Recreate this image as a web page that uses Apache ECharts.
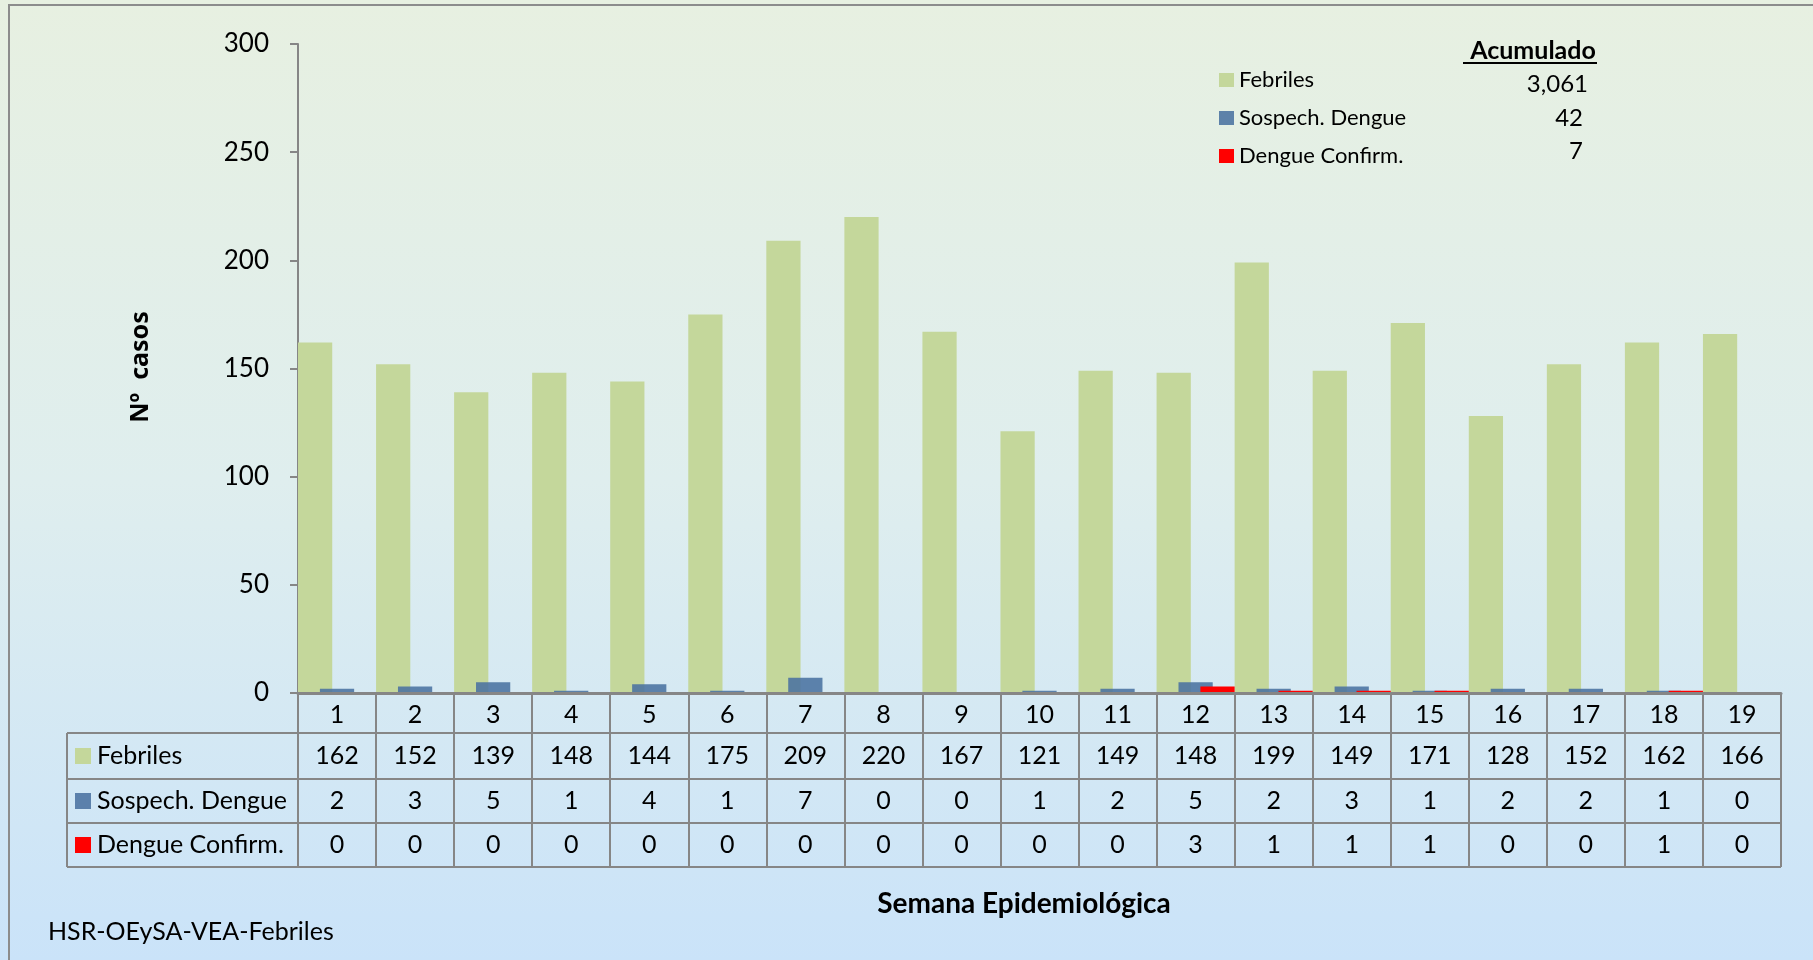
<!DOCTYPE html>
<html>
<head>
<meta charset="utf-8">
<script src="https://cdn.jsdelivr.net/npm/echarts@6/dist/echarts.min.js"></script>
<style>
html,body{margin:0;padding:0;background:#fff;}
#chart{width:1813px;height:960px;}
</style>
</head>
<body>
<div id="chart"></div>
<script>
// ---- data ----
const weeks = ['1','2','3','4','5','6','7','8','9','10','11','12','13','14','15','16','17','18','19'];
const febriles = [162,152,139,148,144,175,209,220,167,121,149,148,199,149,171,128,152,162,166];
const sospech  = [2,3,5,1,4,1,7,0,0,1,2,5,2,3,1,2,2,1,0];
const confirm  = [0,0,0,0,0,0,0,0,0,0,0,3,1,1,1,0,0,1,0];
const seriesNames = ['Febriles','Sospech. Dengue','Dengue Confirm.'];
const yTicks = {min:0, max:300, interval:50};

const colors = ['#c4d79b','rgba(74,114,160,0.88)','#ff0000'];
const FONT = 'Lato, "Noto Sans", sans-serif';

const chart = echarts.init(document.getElementById('chart'), null, {renderer:'canvas'});

const gridL = 298, gridR = 1781, gridT = 44, gridB = 693;

const option = {
  animation:false,
  textStyle:{fontFamily:FONT},
  grid:{left:gridL, right:1813-gridR, top:gridT, bottom:960-gridB, containLabel:false},
  legend:{
    orient:'vertical', left:1214, top:64,
    itemWidth:15, itemHeight:14, itemGap:16,
    icon:'rect',
    textStyle:{fontFamily:FONT, fontSize:22, color:'#000', padding:[0,0,0,0]},
    data:seriesNames
  },
  xAxis:{
    type:'category', data:weeks, z:5,
    axisLine:{show:true, lineStyle:{color:'#868686', width:3}},
    axisTick:{show:true, interval:0, length:174, lineStyle:{color:'#868686', width:2}},
    axisLabel:{show:true, interval:0, margin:9, fontSize:25, color:'#000', fontFamily:FONT, lineHeight:25},
    splitLine:{show:false}
  },
  yAxis:{
    type:'value', min:yTicks.min, max:yTicks.max, interval:yTicks.interval,
    axisLine:{show:true, lineStyle:{color:'#868686', width:2}},
    axisTick:{show:true, length:8, lineStyle:{color:'#868686', width:2}},
    axisLabel:{fontSize:26, color:'#000', margin:29, fontFamily:FONT},
    splitLine:{show:false}
  },
  series:[
    {name:seriesNames[0], type:'bar', data:febriles, itemStyle:{color:colors[0]}, barCategoryGap:'0%', barGap:'-36%'},
    {name:seriesNames[1], type:'bar', data:sospech, itemStyle:{color:colors[1]}, barCategoryGap:'0%', barGap:'-36%'},
    {name:seriesNames[2], type:'bar', data:confirm, itemStyle:{color:colors[2]}, barCategoryGap:'0%', barGap:'-36%'}
  ]
};
chart.setOption(option);

// ---- graphics: background, table, titles ----
const sum = a => a.reduce((s,v)=>s+v,0);
const totals = [sum(febriles), sum(sospech), sum(confirm)];
const rows = [febriles, sospech, confirm];
const rowCenters = [756, 801, 845];
const hLines = [733, 779, 823, 867];
const tableLeft = 67;

const g = [];
g.push({type:'rect', z:-100, silent:true, shape:{x:0,y:0,width:1813,height:960},
  style:{fill:new echarts.graphic.LinearGradient(0,0,0,1,[{offset:0,color:'#e7f0e1'},{offset:0.5,color:'#dfeeee'},{offset:1,color:'#cae3f9'}])}});
g.push({type:'rect', z:-50, silent:true, shape:{x:9,y:5,width:1830,height:980},
  style:{fill:null, stroke:'#8c8c8c', lineWidth:2}});

// table horizontal lines
hLines.forEach(y=>{
  g.push({type:'line', z:5, shape:{x1:tableLeft,y1:y,x2:gridR,y2:y}, style:{stroke:'#868686', lineWidth:2}});
});
g.push({type:'line', z:5, shape:{x1:tableLeft,y1:hLines[0],x2:tableLeft,y2:hLines[3]}, style:{stroke:'#868686', lineWidth:2}});

// legend column in table
seriesNames.forEach((n,i)=>{
  const cy = rowCenters[i];
  g.push({type:'rect', z:6, shape:{x:75,y:cy-8,width:16,height:16}, style:{fill:colors[i]}});
  g.push({type:'text', z:6, x:97, y:cy, style:{text:n, font:'25px '+FONT, fill:'#000', textAlign:'left', textVerticalAlign:'middle'}});
});

// table values
weeks.forEach((w,idx)=>{
  const px = chart.convertToPixel({xAxisIndex:0}, idx);
  rows.forEach((r,i)=>{
    g.push({type:'text', z:6, x:px, y:rowCenters[i], style:{text:String(r[idx]), font:'25px '+FONT, fill:'#000', textAlign:'center', textVerticalAlign:'middle'}});
  });
});

// accumulated totals box
g.push({type:'text', z:6, x:1533, y:51, style:{text:'Acumulado', font:'bold 25px '+FONT, fill:'#000', textAlign:'center', textVerticalAlign:'middle'}});
g.push({type:'line', z:6, shape:{x1:1463,y1:63,x2:1597,y2:63}, style:{stroke:'#000', lineWidth:2}});
const totY = [84, 118, 151];
const totX = [1588, 1583, 1583];
totals.forEach((t,i)=>{
  g.push({type:'text', z:6, x:totX[i], y:totY[i], style:{text:t.toLocaleString('en-US'), font:'24px '+FONT, fill:'#000', textAlign:'right', textVerticalAlign:'middle'}});
});

// axis titles
g.push({type:'text', z:6, x:141, y:367, rotation:Math.PI/2, style:{text:'Nº  casos', font:'bold 25px "Noto Sans", '+FONT, fill:'#000', textAlign:'center', textVerticalAlign:'middle'}});
g.push({type:'text', z:6, x:1024, y:904, style:{text:'Semana Epidemiológica', font:'bold 28px '+FONT, fill:'#000', textAlign:'center', textVerticalAlign:'middle'}});
g.push({type:'text', z:6, x:48, y:932, style:{text:'HSR-OEySA-VEA-Febriles', font:'25px '+FONT, fill:'#000', textAlign:'left', textVerticalAlign:'middle'}});

chart.setOption({graphic:{elements:g}});
</script>
</body>
</html>
